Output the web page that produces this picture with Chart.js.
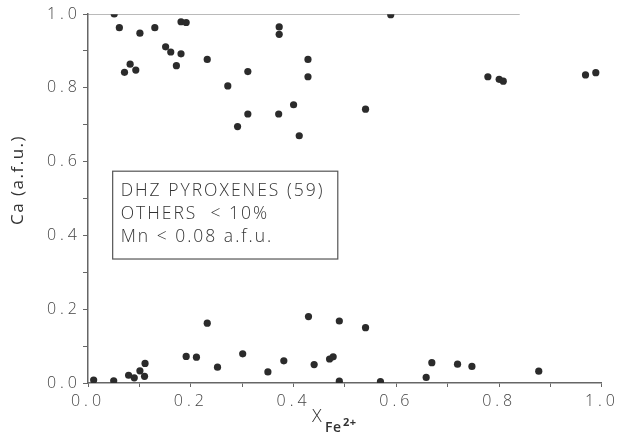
<!DOCTYPE html>
<html>
<head>
<meta charset="utf-8">
<script src="https://cdn.jsdelivr.net/npm/chart.js@4"></script>
<style>
  html, body { margin:0; padding:0; background:#fff; }
  #wrap { width:618px; height:436px; }
</style>
</head>
<body>
<div id="wrap"><canvas id="chart" width="618" height="436"></canvas></div>
<script>
// ---- data ----
const highCaX = [0.051,0.061,0.071,0.082,0.093,0.101,0.130,0.151,0.161,0.172,0.181,0.181,0.191,0.232,0.272,0.291,0.311,0.311,0.371,0.372,0.372,0.400,0.411,0.428,0.428,0.540,0.589,0.778,0.800,0.808,0.968,0.988];
const highCaY = [1.000,0.963,0.842,0.864,0.848,0.948,0.963,0.911,0.897,0.860,0.892,0.979,0.977,0.877,0.805,0.695,0.844,0.729,0.729,0.965,0.945,0.754,0.670,0.877,0.830,0.742,0.998,0.830,0.823,0.818,0.835,0.841];
const lowCaX  = [0.011,0.050,0.079,0.090,0.101,0.110,0.111,0.191,0.211,0.232,0.252,0.301,0.350,0.381,0.429,0.440,0.470,0.477,0.489,0.489,0.540,0.569,0.658,0.669,0.719,0.747,0.877];
const lowCaY  = [0.008,0.006,0.021,0.014,0.033,0.018,0.053,0.072,0.070,0.162,0.043,0.079,0.030,0.060,0.180,0.050,0.065,0.071,0.168,0.005,0.150,0.004,0.015,0.055,0.051,0.045,0.032];
const limitLineX = [0, 0.84];
const limitLineY = [1.0, 1.0];
const noteLines = ['DHZ PYROXENES (59)', 'OTHERS  < 10%', 'Mn < 0.08 a.f.u.'];

const INK = '#2b2b2b';
const AXIS = '#666';
const FONT = "'Open Sans', 'Liberation Sans', sans-serif";

const pts = (xs, ys) => xs.map((x, i) => ({ x, y: ys[i] }));

// wide plotter-like lettering for the tick labels
const spacing = {
  id: 'spacing',
  beforeDraw(chart) { chart.ctx.letterSpacing = '4px'; },
  afterDraw(chart) { chart.ctx.letterSpacing = '0px'; }
};

// text box + axis titles
const annotations = {
  id: 'annotations',
  afterDraw(chart) {
    const { ctx, scales: { x, y } } = chart;
    ctx.save();
    // note box
    const l = x.getPixelForValue(0.048), r = x.getPixelForValue(0.486);
    const t = y.getPixelForValue(0.574), b = y.getPixelForValue(0.336);
    ctx.strokeStyle = '#555';
    ctx.lineWidth = 1.2;
    ctx.strokeRect(l, t, r - l, b - t);
    ctx.fillStyle = '#333';
    ctx.letterSpacing = '2px';
    ctx.font = `300 17.5px ${FONT}`;
    ctx.textBaseline = 'middle';
    ctx.textAlign = 'left';
    noteLines.forEach((s, i) => ctx.fillText(s, l + 8, t + 20 + i * 23));

    // y title
    ctx.save();
    ctx.translate(18, 180);
    ctx.rotate(-Math.PI / 2);
    ctx.textAlign = 'center';
    ctx.letterSpacing = '1.5px';
    ctx.font = `400 17px ${FONT}`;
    ctx.fillText('Ca (a.f.u.)', 0, 0);
    ctx.restore();

    // x title: X with subscript Fe2+
    const cx = 312;
    ctx.letterSpacing = '0.5px';
    ctx.textAlign = 'left';
    ctx.font = `300 18px ${FONT}`;
    ctx.fillText('X', cx, 417);
    ctx.font = `600 14px ${FONT}`;
    ctx.fillText('Fe', cx + 13, 428);
    ctx.font = `700 11px ${FONT}`;
    ctx.fillText('2+', cx + 31, 423);
    ctx.restore();
  }
};

new Chart(document.getElementById('chart'), {
  type: 'scatter',
  data: {
    datasets: [
      { data: pts(limitLineX, limitLineY), type: 'line', showLine: true, borderColor: '#777', borderWidth: 1.2, pointRadius: 0 },
      { data: pts(highCaX, highCaY), backgroundColor: INK, borderWidth: 0, pointRadius: 3.6 },
      { data: pts(lowCaX, lowCaY), backgroundColor: INK, borderWidth: 0, pointRadius: 3.6 }
    ]
  },
  options: {
    responsive: false,
    animation: false,
    layout: { padding: { top: 14, right: 16, left: 0, bottom: 0 } },
    plugins: { legend: { display: false }, tooltip: { enabled: false } },
    scales: {
      x: {
        type: 'linear', min: 0, max: 1,
        afterFit: s => { s.height = 53; },
        border: { color: AXIS, width: 1.5 },
        grid: { drawOnChartArea: false, tickLength: 4, color: AXIS },
        ticks: {
          stepSize: 0.1, color: '#444', padding: 5, maxRotation: 0,
          font: { family: FONT, size: 16, weight: 300 },
          callback: v => (Math.round(v * 10) % 2 === 0 ? v.toFixed(1) : '')
        }
      },
      y: {
        type: 'linear', min: 0, max: 1,
        afterFit: s => { s.width = 88; },
        border: { color: AXIS, width: 1.5 },
        grid: { drawOnChartArea: false, tickLength: 5, color: AXIS },
        ticks: {
          stepSize: 0.1, color: '#444', padding: 2,
          font: { family: FONT, size: 16, weight: 300 },
          callback: v => (Math.round(v * 10) % 2 === 0 ? v.toFixed(1) : '')
        }
      }
    }
  },
  plugins: [spacing, annotations]
});
</script>
</body>
</html>
